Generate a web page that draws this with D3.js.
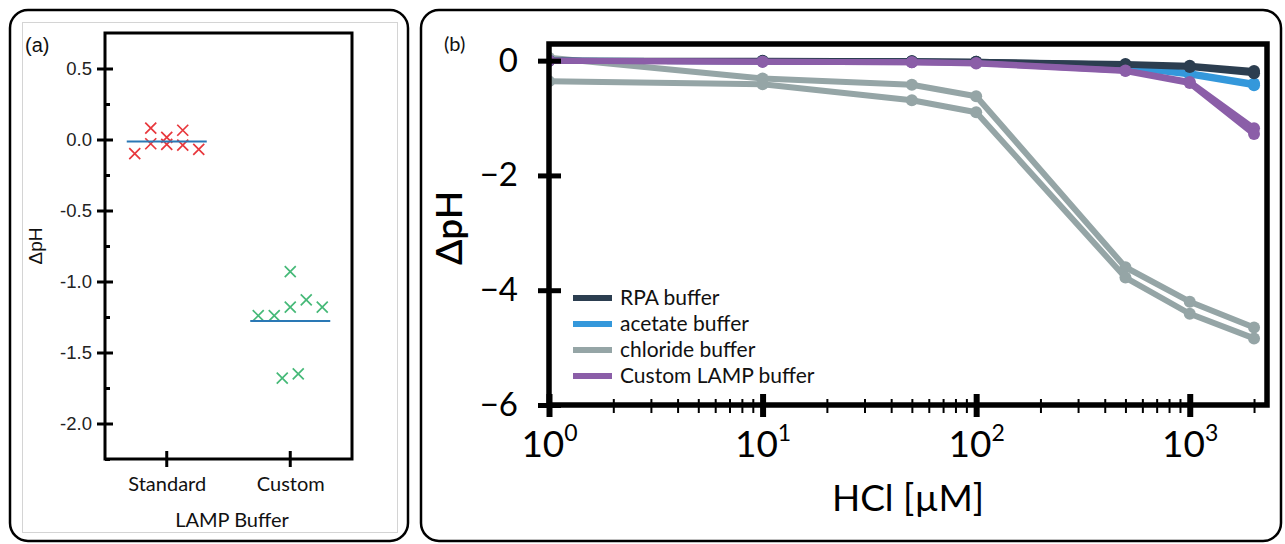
<!DOCTYPE html>
<html>
<head>
<meta charset="utf-8">
<script src="https://cdn.jsdelivr.net/npm/d3@7"></script>
<style>
  body { margin: 0; background: #fff; }
  svg { display: block; }
</style>
</head>
<body>
<script>
// ---- panel (a) data : dpH per run, slot = horizontal jitter position
var categories = ["Standard", "Custom"]
var standardDpH  = [-0.10, 0.08, -0.03, 0.015, -0.035, 0.065, -0.04, -0.07]
var standardSlot = [-2, -1, -1, 0, 0, 1, 1, 2]
var customDpH    = [-1.24, -1.24, -0.93, -1.18, -1.13, -1.18, -1.68, -1.65]
var customSlot   = [-2, -1, 0, 0, 1, 2, -0.5, 0.5]
var yTicksA      = [-2, -1.5, -1, -0.5, 0, 0.5]
var yMinorA      = [-2.25, -1.75, -1.25, -0.75, -0.25, 0.25]

// ---- panel (b) data
var hcl = [1, 10, 50, 100, 500, 1000, 2000]
var rpaA      = [0, 0, -0.01, -0.02, -0.06, -0.09, -0.18]
var rpaB      = [0, -0.01, -0.01, -0.02, -0.07, -0.11, -0.22]
var acetateA  = [0, -0.01, -0.02, -0.03, -0.10, -0.22, -0.40]
var acetateB  = [0, -0.01, -0.02, -0.03, -0.11, -0.24, -0.43]
var chlorideA = [0.05, -0.31, -0.42, -0.62, -3.60, -4.20, -4.65]
var chlorideB = [-0.36, -0.41, -0.69, -0.90, -3.78, -4.41, -4.84]
var customA   = [0, -0.02, -0.03, -0.04, -0.17, -0.37, -1.18]
var customB   = [0, -0.02, -0.03, -0.05, -0.18, -0.39, -1.28]
var bufferNames  = ["RPA buffer", "acetate buffer", "chloride buffer", "Custom LAMP buffer"]
var bufferColors = ["#2c3e50", "#3498db", "#95a5a6", "#8b5ea8"]
var yTicksB = [-6, -4, -2, 0]
var decades = [1, 10, 100, 1000]

var W = 1285, H = 544
var svg = d3.select("body").append("svg").attr("width", W).attr("height", H)

// panel frames
svg.append("rect").attr("x", 10).attr("y", 10).attr("width", 398).attr("height", 531)
  .attr("rx", 18).attr("fill", "none").attr("stroke", "#000").attr("stroke-width", 2.5)
svg.append("rect").attr("x", 22.5).attr("y", 22.5).attr("width", 375).attr("height", 510)
  .attr("fill", "none").attr("stroke", "#d4d4d4").attr("stroke-width", 1)
svg.append("rect").attr("x", 421).attr("y", 10).attr("width", 860).attr("height", 531)
  .attr("rx", 18).attr("fill", "none").attr("stroke", "#000").attr("stroke-width", 2.5)

// ================= panel (a) =================
var pa = {l: 105, r: 352, t: 33, b: 459}
var xa = d3.scalePoint().domain(categories).range([pa.l, pa.r]).padding(0.5)
var ya = d3.scaleLinear().domain([-2.25, 0.75]).range([pa.b, pa.t])
var ga = svg.append("g")

ga.append("rect").attr("x", pa.l).attr("y", pa.t).attr("width", pa.r - pa.l).attr("height", pa.b - pa.t)
  .attr("fill", "none").attr("stroke", "#000").attr("stroke-width", 3)

var yAxA = ga.append("g").attr("transform", "translate(" + pa.l + ",0)")
  .call(d3.axisLeft(ya).tickValues(yTicksA).tickSize(8).tickPadding(5).tickFormat(function(d){ return d.toFixed(1) }))
yAxA.select(".domain").remove()
yAxA.selectAll("line").attr("stroke-width", 3)
yAxA.selectAll("text").attr("font-family", "Liberation Sans, Arial").attr("font-size", 18.5).attr("fill", "#222")
var yAxA2 = ga.append("g").attr("transform", "translate(" + pa.l + ",0)")
  .call(d3.axisRight(ya).tickValues(yTicksA).tickSize(8).tickFormat(""))
yAxA2.select(".domain").remove()
yAxA2.selectAll("line").attr("stroke-width", 3)
var yAxA3 = ga.append("g").attr("transform", "translate(" + pa.l + ",0)")
  .call(d3.axisRight(ya).tickValues(yMinorA).tickSize(5).tickFormat(""))
yAxA3.select(".domain").remove()
yAxA3.selectAll("line").attr("stroke-width", 3)

var xAxA = ga.append("g").attr("transform", "translate(0," + pa.b + ")")
  .call(d3.axisBottom(xa).tickSize(0).tickPadding(18))
xAxA.select(".domain").remove()
xAxA.selectAll("text").attr("font-family", "Lato, sans-serif").attr("font-size", 20).attr("fill", "#111")
ga.selectAll("line.xt").data(categories).enter().append("line").attr("class", "xt")
  .attr("x1", function(d){ return xa(d) }).attr("x2", function(d){ return xa(d) })
  .attr("y1", pa.b - 8).attr("y2", pa.b + 8).attr("stroke", "#000").attr("stroke-width", 3)

var groupsA = [
  {cat: "Standard", vals: standardDpH, slots: standardSlot, color: "#e8383d"},
  {cat: "Custom", vals: customDpH, slots: customSlot, color: "#46b978"}
]
var slotPx = 16, cs = 5.5
groupsA.forEach(function(g) {
  var pts = g.vals.map(function(v, i){ return {x: xa(g.cat) + g.slots[i] * slotPx, y: ya(v)} })
  ga.append("g").selectAll("path").data(pts).enter().append("path")
    .attr("d", function(p){
      return "M" + (p.x - cs) + "," + (p.y - cs) + "L" + (p.x + cs) + "," + (p.y + cs) +
             "M" + (p.x - cs) + "," + (p.y + cs) + "L" + (p.x + cs) + "," + (p.y - cs)
    })
    .attr("stroke", g.color).attr("stroke-width", 1.7).attr("fill", "none")
  var m = d3.mean(g.vals)
  ga.append("line").attr("x1", xa(g.cat) - 40).attr("x2", xa(g.cat) + 40)
    .attr("y1", ya(m)).attr("y2", ya(m)).attr("stroke", "#2a78b5").attr("stroke-width", 2)
})

ga.append("text").attr("x", 25).attr("y", 52).text("(a)")
  .attr("font-family", "Liberation Sans, Arial").attr("font-size", 20).attr("fill", "#111")
ga.append("text").attr("transform", "translate(42,246) rotate(-90)").attr("text-anchor", "middle")
  .text("ΔpH").attr("font-family", "Liberation Sans, Arial").attr("font-size", 19).attr("fill", "#111")
ga.append("text").attr("x", 232).attr("y", 527).attr("text-anchor", "middle").text("LAMP Buffer")
  .attr("font-family", "Lato, sans-serif").attr("font-size", 20).attr("fill", "#111")

// ================= panel (b) =================
var pb = {l: 549, r: 1267, t: 44, b: 405}
var xb = d3.scaleLog().domain([1, 2300]).range([pb.l, pb.r])
var yb = d3.scaleLinear().domain([-6, 0.29]).range([pb.b, pb.t])
var gb = svg.append("g")

gb.append("clipPath").attr("id", "clipb").append("rect")
  .attr("x", pb.l).attr("y", pb.t).attr("width", pb.r - pb.l).attr("height", pb.b - pb.t)

var seriesB = [
  {name: bufferNames[2], color: bufferColors[2], reps: [chlorideA, chlorideB]},
  {name: bufferNames[1], color: bufferColors[1], reps: [acetateA, acetateB]},
  {name: bufferNames[0], color: bufferColors[0], reps: [rpaA, rpaB]},
  {name: bufferNames[3], color: bufferColors[3], reps: [customA, customB]}
]
var line = d3.line().x(function(d){ return xb(d[0]) }).y(function(d){ return yb(d[1]) })
var plotB = gb.append("g").attr("clip-path", "url(#clipb)")
seriesB.forEach(function(s) {
  s.reps.forEach(function(r) {
    var pts = hcl.map(function(c, i){ return [c, r[i]] })
    plotB.append("path").datum(pts).attr("d", line).attr("fill", "none")
      .attr("stroke", s.color).attr("stroke-width", 6).attr("stroke-linejoin", "round")
    plotB.append("g").selectAll("circle").data(pts).enter().append("circle")
      .attr("cx", function(d){ return xb(d[0]) }).attr("cy", function(d){ return yb(d[1]) })
      .attr("r", 6).attr("fill", s.color)
  })
})

// frame
gb.append("rect").attr("x", pb.l).attr("y", pb.t).attr("width", pb.r - pb.l).attr("height", pb.b - pb.t)
  .attr("fill", "none").attr("stroke", "#000").attr("stroke-width", 5.5)

// y axis
var yAxB = gb.append("g").attr("transform", "translate(" + pb.l + ",0)")
  .call(d3.axisLeft(yb).tickValues(yTicksB).tickSize(11).tickPadding(20).tickFormat(function(d){ return d < 0 ? "\u2212" + (-d) : d }))
yAxB.select(".domain").remove()
yAxB.selectAll("line").attr("stroke-width", 5)
yAxB.selectAll("text").attr("font-family", "Lato, sans-serif").attr("font-size", 33).attr("fill", "#000")
var yAxB2 = gb.append("g").attr("transform", "translate(" + pb.l + ",0)")
  .call(d3.axisRight(yb).tickValues(yTicksB).tickSize(12).tickFormat(""))
yAxB2.select(".domain").remove()
yAxB2.selectAll("line").attr("stroke-width", 5)

// x axis: minor ticks then decades
var minor = []
decades.forEach(function(d){ for (var k = 2; k <= 9; k++) if (d * k <= 2300) minor.push(d * k) })
var xAxMinor = gb.append("g").attr("transform", "translate(0," + (pb.b - 6) + ")")
  .call(d3.axisBottom(xb).tickValues(minor).tickSize(14).tickFormat(""))
xAxMinor.select(".domain").remove()
xAxMinor.selectAll("line").attr("stroke-width", 2)
var xAxB = gb.append("g").attr("transform", "translate(0," + (pb.b - 11) + ")")
  .call(d3.axisBottom(xb).tickValues(decades).tickSize(23).tickPadding(20).tickFormat(""))
xAxB.select(".domain").remove()
xAxB.selectAll("line").attr("stroke-width", 6)
xAxB.selectAll(".tick text").each(function(d) {
  var t = d3.select(this).attr("font-family", "Lato, sans-serif").attr("font-size", 37)
    .attr("fill", "#000").attr("dy", null).attr("y", 63)
  t.append("tspan").text("10")
  t.append("tspan").attr("dy", -16).attr("font-size", 23).text(Math.round(Math.log10(d)))
})

gb.append("text").attr("x", (pb.l + pb.r) / 2).attr("y", 511).attr("text-anchor", "middle")
  .text("HCl [\u00b5M]").attr("font-family", "Lato, sans-serif").attr("font-size", 37).attr("fill", "#000")
gb.append("text").attr("transform", "translate(462,228) rotate(-90)").attr("text-anchor", "middle")
  .text("ΔpH").attr("font-family", "Lato, sans-serif").attr("font-size", 37).attr("font-weight", 600).attr("fill", "#000")
gb.append("text").attr("x", 444).attr("y", 51).text("(b)")
  .attr("font-family", "Lato, sans-serif").attr("font-size", 20).attr("fill", "#111")

// legend
var leg = gb.append("g").selectAll("g").data(bufferNames).enter().append("g")
  .attr("transform", function(d, i){ return "translate(573," + (298 + i * 26) + ")" })
leg.append("line").attr("x1", 0).attr("x2", 39).attr("stroke", function(d, i){ return bufferColors[i] })
  .attr("stroke-width", 6)
leg.append("text").attr("x", 47).attr("dy", "0.35em").text(function(d){ return d })
  .attr("font-family", "Lato, sans-serif").attr("font-size", 21).attr("fill", "#111")
</script>
</body>
</html>
